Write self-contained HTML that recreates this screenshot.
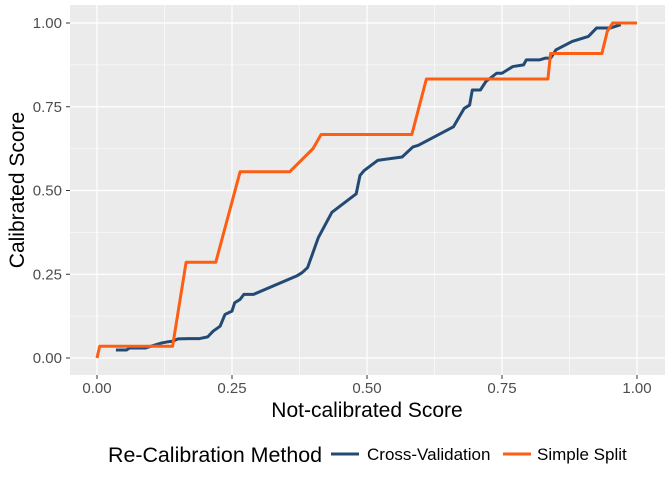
<!DOCTYPE html>
<html><head><meta charset="utf-8"><style>
body{margin:0;background:#fff;}
svg{display:block;font-family:"Liberation Sans",sans-serif;}
</style></head><body>
<svg id="c" width="672" height="480"></svg>
<script>
const xTicks=[0,0.25,0.5,0.75,1];
const yTicks=[0,0.25,0.5,0.75,1];
const xTickLabels=["0.00","0.25","0.50","0.75","1.00"];
const yTickLabels=["0.00","0.25","0.50","0.75","1.00"];
const cvX=[0.035,0.055,0.06,0.09,0.11,0.12,0.13,0.14,0.15,0.17,0.19,0.205,0.215,0.228,0.237,0.25,0.255,0.265,0.272,0.29,0.37,0.38,0.39,0.41,0.435,0.48,0.487,0.495,0.52,0.565,0.585,0.595,0.66,0.68,0.69,0.695,0.71,0.72,0.74,0.75,0.77,0.79,0.795,0.82,0.83,0.84,0.85,0.88,0.91,0.925,0.95,0.97];
const cvY=[0.024,0.024,0.03,0.03,0.04,0.045,0.048,0.05,0.057,0.058,0.058,0.063,0.08,0.095,0.13,0.14,0.165,0.175,0.19,0.19,0.245,0.255,0.27,0.36,0.435,0.49,0.545,0.56,0.59,0.60,0.63,0.635,0.69,0.745,0.755,0.80,0.80,0.825,0.85,0.85,0.87,0.875,0.89,0.89,0.895,0.895,0.92,0.945,0.96,0.985,0.985,0.995];
const ssX=[0,0.005,0.14,0.165,0.22,0.265,0.357,0.40,0.415,0.583,0.61,0.835,0.84,0.935,0.945,0.955,1];
const ssY=[0,0.035,0.035,0.286,0.286,0.556,0.556,0.625,0.667,0.667,0.833,0.833,0.909,0.909,0.975,1,1];
const NS="http://www.w3.org/2000/svg";
const svg=document.getElementById('c');
const X=v=>97+v*540, Y=v=>358-v*335;
function el(t,a,p){const e=document.createElementNS(NS,t);for(const k in a)e.setAttribute(k,a[k]);(p||svg).appendChild(e);return e;}
const panel=el('rect',{x:70,y:5,width:595,height:370,fill:'#ebebeb'});


for(let i=0;i<xTicks.length-1;i++){
  const mx=(xTicks[i]+xTicks[i+1])/2;
  const g=el('line',{x1:X(mx),x2:X(mx),y1:5,y2:375,stroke:'#fff','stroke-width':0.6});
  
  
  const my=(yTicks[i]+yTicks[i+1])/2;
  const h=el('line',{x1:70,x2:665,y1:Y(my),y2:Y(my),stroke:'#fff','stroke-width':0.6});
  
  
}
xTicks.forEach((v,i)=>{
  const g=el('line',{x1:X(v),x2:X(v),y1:5,y2:375,stroke:'#fff','stroke-width':1.2});
  
  
  el('line',{x1:X(v),x2:X(v),y1:375,y2:379,stroke:'#333','stroke-width':1});
  const t=el('text',{x:X(v),y:393,'text-anchor':'middle','font-size':15,fill:'#4d4d4d'});
  t.textContent=xTickLabels[i];
  
  
});
yTicks.forEach((v,i)=>{
  const g=el('line',{x1:70,x2:665,y1:Y(v),y2:Y(v),stroke:'#fff','stroke-width':1.2});
  
  
  el('line',{x1:66,x2:70,y1:Y(v),y2:Y(v),stroke:'#333','stroke-width':1});
  const t=el('text',{x:62,y:Y(v)+5,'text-anchor':'end','font-size':15,fill:'#4d4d4d'});
  t.textContent=yTickLabels[i];
  
  
});
function line(xs,ys,col,name){
  const p=el('polyline',{points:xs.map((x,i)=>X(x)+','+Y(ys[i])).join(' '),fill:'none',stroke:col,'stroke-width':3,'stroke-linejoin':'round'});
  
  
}
line(cvX,cvY,'#234a75','cross-validation-line');
line(ssX,ssY,'#fd5e13','simple-split-line');
let t=el('text',{x:367,y:417,'text-anchor':'middle','font-size':21,fill:'#000'});
t.textContent='Not-calibrated Score';


t=el('text',{x:0,y:0,'text-anchor':'middle','font-size':21,fill:'#000',transform:'translate(24,190) rotate(-90)'});
t.textContent='Calibrated Score';


t=el('text',{x:108,y:462,'font-size':21.4,fill:'#000'});
t.textContent='Re-Calibration Method';


let k=el('line',{x1:331,x2:359,y1:454,y2:454,stroke:'#234a75','stroke-width':3});


t=el('text',{x:367,y:460,'font-size':17,fill:'#000'});
t.textContent='Cross-Validation';


k=el('line',{x1:503,x2:531,y1:454,y2:454,stroke:'#fd5e13','stroke-width':3});


t=el('text',{x:537,y:460,'font-size':17,fill:'#000'});
t.textContent='Simple Split';


</script>
</body></html>
